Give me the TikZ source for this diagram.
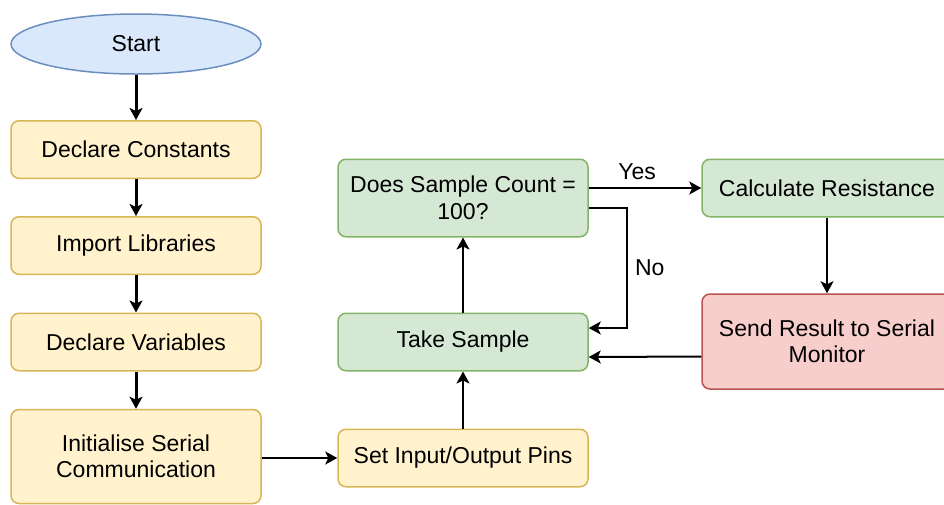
\documentclass[tikz,border=0pt]{standalone}
\usepackage{fontspec}
\setmainfont{Liberation Sans}
\usetikzlibrary{arrows.meta,shapes.geometric}
\definecolor{BlueFill}{HTML}{DAE8FC}
\definecolor{BlueLine}{HTML}{6C8EBF}
\definecolor{YellowFill}{HTML}{FFF2CC}
\definecolor{YellowLine}{HTML}{D6B656}
\definecolor{GreenFill}{HTML}{D5E8D4}
\definecolor{GreenLine}{HTML}{82B366}
\definecolor{RedFill}{HTML}{F8CECC}
\definecolor{RedLine}{HTML}{B85450}
\tikzset{
  >={Stealth[length=12pt,width=13pt,inset=3pt]},
  box/.style={draw, line width=1.5pt, rounded corners=8pt, align=center, minimum width=250pt, minimum height=57.5pt, inner sep=2pt},
  startbox/.style={ellipse, draw=BlueLine, fill=BlueFill, line width=1.5pt, minimum width=250pt, minimum height=60pt, inner sep=0pt},
  setupbox/.style={box, draw=YellowLine, fill=YellowFill},
  loopbox/.style={box, draw=GreenLine, fill=GreenFill},
  outbox/.style={box, draw=RedLine, fill=RedFill},
  thickflow/.style={->, line width=3pt},
  flow/.style={->, line width=2pt}
}

\begin{document}
\begin{tikzpicture}[x=1pt,y=-1pt,font=\fontsize{23}{26.5}\selectfont]
\useasboundingbox (0,0) rectangle (944,504);

\node[startbox] (start) at (136,44) {Start};
\node[setupbox] (constants) at (136,149.5) {Declare Constants};
\node[setupbox] (libraries) at (136,245.5) {Import Libraries};
\node[setupbox] (variables) at (136,342) {Declare Variables};
\node[setupbox, minimum height=94pt] (serial) at (136,456.5) {Initialise Serial\\Communication};
\node[setupbox] (pins) at (463,458) {Set Input/Output Pins};
\node[loopbox] (take) at (463,342) {Take Sample};
\node[loopbox, minimum height=77.5pt] (count) at (463,198) {Does Sample Count =\\100?};
\node[loopbox] (calc) at (827,188) {Calculate Resistance};
\node[outbox, minimum height=95pt] (send) at (827,341.5) {Send Result to Serial\\Monitor};

\draw[thickflow] (start) -- (constants);
\draw[thickflow] (constants) -- (libraries);
\draw[thickflow] (libraries) -- (variables);
\draw[thickflow] (variables) -- (serial);

\draw[flow] (serial.east |- pins) -- (pins);
\draw[flow] (pins) -- (take);
\draw[flow] (take) -- (count);
\draw[flow] ([yshift=10pt]count.east) -- node[above=4pt, pos=0.43] {Yes} (calc.west);
\draw[flow] ([yshift=-10pt]count.east) -- ++(38,0) -- node[right=4pt] {No} ++(0,120) -- ([yshift=14pt]take.east);
\draw[flow] (calc) -- (send);
\draw[flow] ([yshift=-15pt]send.west) -- ([yshift=-15pt]take.east);

\end{tikzpicture}
\end{document}
